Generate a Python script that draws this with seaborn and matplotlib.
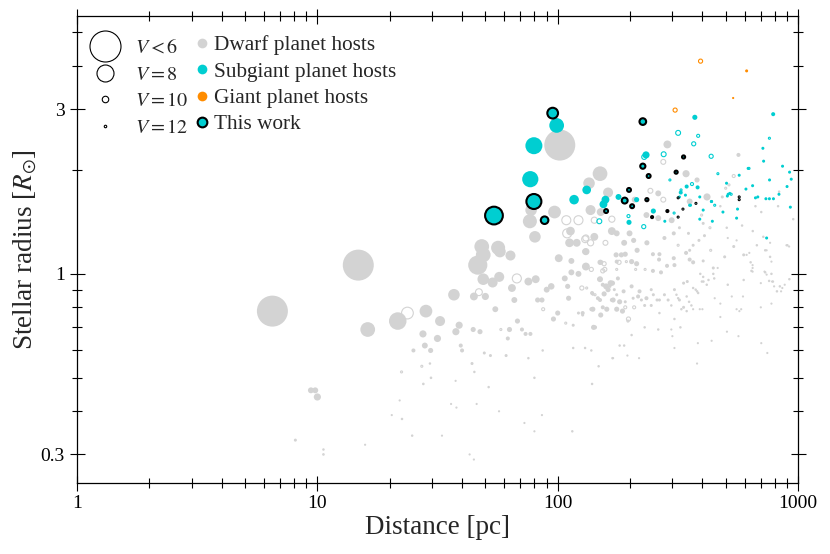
import numpy as np
import pandas as pd
import matplotlib
matplotlib.use("Agg")
import matplotlib.pyplot as plt
import seaborn as sns
from matplotlib.lines import Line2D
from matplotlib.ticker import FixedLocator, LogLocator, NullFormatter, FuncFormatter

# Dwarf planet hosts: distance [pc], radius [Rsun], V mag, open marker flag
dwarf_dist = [6.5, 14.8, 102, 16.2, 21.6, 23.7, 28.3, 32.4, 37.0, 38.9,
              37.7, 27.5, 31.6, 28.0, 29.6, 25.1, 44.5, 47.5, 55, 44.8,
              50, 47, 49, 53.6, 57.1, 46.5, 49, 57.5, 63.6, 67.6,
              64.5, 66, 75.5, 81, 82.5, 86, 90, 94, 101, 114,
              130, 131, 107, 114, 122, 110, 111, 100, 96, 87,
              126, 150, 148, 140, 154, 162, 168, 116, 108, 127,
              142, 122, 116, 148, 139, 115, 86.6, 75.5, 80, 86,
              80, 72.7, 57, 51.6, 49.5, 52.5, 61, 62, 63, 68,
              71, 73.5, 77, 58, 44, 45, 37.6, 36, 37.9, 46,
              43, 44.8, 33, 24.8, 22.5, 20.4, 22.0, 22.4, 27.2, 29.7,
              27.6, 29.4, 39.5, 40, 15.8, 8.1, 10.6, 10.6, 9.4, 9.8,
              10.0, 48.3, 56.5, 80.4, 76.6, 97, 108.6, 122, 109.5, 113,
              112, 120, 131, 137, 131, 138, 156, 157, 169, 156,
              147, 178, 176, 176, 184, 193, 203, 213, 189, 199,
              176, 168, 158, 137, 151, 207, 214, 77.5, 142, 130,
              175, 191, 151, 154, 180, 211, 231, 235, 249, 265,
              264, 249, 269, 285, 278, 304, 317, 304, 306, 354,
              366, 342, 354, 366, 387, 408, 433, 403, 444, 495,
              540, 594, 635, 640, 594, 674, 717, 730, 765, 730,
              775, 758, 786, 840, 817, 920, 903, 775, 700, 590,
              580, 570, 510, 475, 450, 400, 417, 398, 380, 366,
              346, 334, 306, 278, 288, 321, 334, 360, 259, 245,
              219, 216, 234, 203, 188, 181, 170, 166, 159, 150,
              160, 176, 186, 197, 191, 208, 141, 151, 140, 230,
              262, 324, 306, 390, 565, 437, 383, 300, 203, 189,
              181, 130, 138, 169, 218, 306, 506, 475, 850, 880,
              195, 380, 745, 286, 565, 150, 135, 162, 275, 243,
              342, 380, 418, 262, 275, 142, 168, 209, 234, 262,
              298, 354, 500, 516, 540, 484, 665, 703, 834, 826,
              955, 397, 475, 505, 585, 648, 321, 403, 430, 350,
              611, 627, 647, 647, 647, 725, 740, 780, 795, 700,
              895, 918, 555, 510, 463, 444, 448, 424, 404, 392,
              403, 375, 384, 344, 352, 312, 317, 327, 344, 297,
              265, 245, 250, 223, 230, 206, 191, 172, 176, 165,
              154, 150, 139, 132, 143, 127, 138, 143, 196, 265,
              297, 366, 530, 555, 703, 860, 740, 765, 775, 170]
dwarf_rad = [0.78, 1.06, 2.36, 0.69, 0.73, 0.77, 0.78, 0.73, 0.87, 0.71,
             0.68, 0.67, 0.65, 0.62, 0.60, 0.60, 0.69, 0.68, 0.79, 0.86,
             0.86, 0.885, 0.965, 0.944, 0.98, 1.06, 1.135, 1.16, 1.13, 0.97,
             0.91, 0.84, 0.95, 0.965, 0.84, 0.84, 0.90, 0.92, 1.11, 1.09,
             1.16, 1.05, 0.97, 1.01, 1.0, 0.92, 0.85, 0.77, 0.74, 0.79,
             0.91, 1.08, 0.965, 0.873, 0.80, 0.90, 0.84, 0.71, 0.72, 0.76,
             0.70, 0.77, 0.61, 0.54, 0.48, 0.35, 0.60, 0.57, 0.50, 0.39,
             0.35, 0.37, 0.40, 0.47, 0.59, 0.58, 0.58, 0.65, 0.69, 0.73,
             0.69, 0.67, 0.67, 0.69, 0.55, 0.52, 0.49, 0.42, 0.41, 0.42,
             0.30, 0.29, 0.34, 0.34, 0.38, 0.39, 0.43, 0.52, 0.54, 0.50,
             0.48, 0.55, 0.62, 0.60, 0.32, 0.33, 0.31, 0.30, 0.46, 0.46,
             0.44, 1.20, 1.19, 1.28, 1.42, 1.51, 1.43, 1.43, 1.31, 1.33,
             1.23, 1.23, 1.27, 1.23, 1.16, 1.03, 1.07, 1.03, 0.94, 0.875,
             0.85, 0.97, 1.085, 1.03, 1.135, 1.085, 1.085, 1.07, 1.23, 1.31,
             1.31, 1.33, 1.23, 1.53, 1.51, 1.25, 1.17, 1.53, 1.28, 1.26,
             1.135, 1.14, 1.08, 1.02, 1.08, 1.03, 1.03, 1.23, 1.14, 1.14,
             1.10, 1.02, 1.01, 1.055, 1.27, 1.31, 1.21, 1.11, 1.06, 1.10,
             1.08, 1.15, 1.17, 1.21, 1.25, 1.29, 1.17, 1.09, 1.04, 1.12,
             1.20, 1.135, 1.08, 1.02, 0.96, 1.21, 1.28, 1.17, 1.12, 1.01,
             1.0, 0.954, 0.95, 0.92, 0.89, 0.965, 1.21, 0.82, 0.80, 0.86,
             0.79, 0.78, 0.93, 0.82, 0.85, 0.79, 0.93, 0.95, 0.89, 0.91,
             0.95, 0.94, 0.90, 0.87, 0.84, 0.84, 0.80, 0.81, 0.84, 0.81,
             0.89, 0.86, 0.85, 0.92, 0.89, 0.83, 0.84, 0.94, 0.92, 0.965,
             0.79, 0.79, 0.78, 0.74, 0.80, 0.80, 0.70, 0.76, 0.79, 0.70,
             0.69, 0.70, 0.74, 0.79, 0.66, 0.64, 0.63, 0.66, 0.665, 0.62,
             0.62, 0.61, 0.60, 0.57, 0.57, 0.61, 0.68, 0.75, 0.89, 0.93,
             0.58, 0.55, 0.59, 2.37, 2.21, 1.95, 1.83, 1.72, 2.11, 1.74,
             1.95, 1.87, 1.67, 1.71, 1.64, 1.43, 1.44, 1.64, 1.48, 1.45,
             1.43, 1.62, 1.77, 1.81, 1.92, 1.67, 1.57, 1.51, 1.73, 1.57,
             1.44, 1.48, 1.57, 1.36, 1.38, 1.33, 1.36, 1.40, 1.36, 1.31,
             1.135, 1.15, 1.06, 1.04, 1.015, 1.015, 0.995, 0.95, 0.92, 0.94,
             1.21, 1.20, 1.25, 1.27, 1.04, 1.0, 0.97, 0.96, 0.95, 1.0,
             0.98, 0.90, 0.88, 0.86, 0.83, 0.87, 0.85, 0.79, 0.78, 0.81,
             0.84, 0.90, 0.87, 0.84, 0.81, 0.85, 0.83, 0.90, 0.87, 0.92,
             0.93, 0.84, 0.88, 0.91, 0.87, 0.77, 0.79, 0.70, 0.73, 0.77,
             0.69, 0.79, 0.86, 0.79, 0.63, 0.91, 1.17, 1.23, 1.085, 0.57]
dwarf_vmag = [5.5, 5.5, 5.5, 8.3, 7.9, 8.6, 8.6, 9.1, 8.8, 9.8,
              9.8, 9.8, 9.8, 10.2, 10.5, 11.0, 10.5, 10.5, 10.2, 9.6,
              9.8, 9.6, 8.8, 9.1, 9.1, 7.6, 8.3, 8.8, 9.1, 9.1,
              9.6, 10.2, 9.6, 9.6, 10.5, 10.5, 10.2, 10.0, 9.6, 10.2,
              10.2, 9.6, 10.2, 10.2, 10.2, 10.5, 10.5, 10.5, 10.5, 11.0,
              10.5, 10.5, 11.6, 11.6, 11.0, 10.5, 11.0, 11.6, 11.6, 11.6,
              11.6, 11.6, 12.0, 12.0, 12.0, 12.0, 12.0, 12.0, 12.0, 12.3,
              12.3, 12.3, 12.3, 12.0, 11.6, 11.6, 11.6, 11.0, 10.5, 10.5,
              11.0, 11.0, 11.0, 11.6, 11.6, 12.0, 12.3, 12.3, 12.3, 12.3,
              12.3, 12.3, 12.3, 12.0, 12.0, 12.3, 12.3, 11.6, 11.6, 12.0,
              12.0, 12.0, 11.0, 11.0, 12.3, 11.6, 12.0, 12.0, 10.2, 10.2,
              9.8, 8.3, 8.4, 8.8, 8.4, 8.6, 9.1, 9.1, 9.1, 9.4,
              9.4, 9.6, 9.8, 9.8, 9.8, 10.5, 10.5, 10.5, 10.5, 10.5,
              11.0, 11.0, 11.0, 11.6, 10.5, 11.6, 10.5, 10.5, 10.2, 10.2,
              10.2, 9.6, 10.2, 9.1, 9.6, 10.5, 10.5, 8.8, 9.6, 9.6,
              10.5, 10.5, 10.5, 10.5, 10.5, 11.6, 11.6, 10.5, 11.0, 11.0,
              11.0, 11.0, 11.0, 11.0, 11.0, 11.0, 11.6, 11.0, 11.0, 11.0,
              11.0, 11.0, 11.6, 11.6, 11.6, 11.6, 11.6, 11.6, 11.6, 11.6,
              11.6, 11.6, 12.0, 12.0, 12.0, 12.0, 12.0, 12.0, 12.0, 12.0,
              12.0, 12.0, 12.0, 12.0, 12.0, 12.0, 12.0, 12.3, 12.3, 12.3,
              12.3, 12.3, 12.0, 12.3, 12.3, 12.3, 12.0, 12.0, 12.0, 12.0,
              11.6, 11.6, 11.6, 11.6, 11.6, 11.6, 11.6, 12.0, 11.6, 11.6,
              11.0, 11.0, 11.0, 11.0, 11.0, 10.5, 10.5, 10.2, 10.2, 10.2,
              10.5, 10.5, 10.5, 10.5, 11.0, 11.0, 10.5, 10.5, 10.5, 12.0,
              12.0, 12.0, 12.0, 12.3, 12.3, 12.3, 12.3, 12.3, 12.0, 12.0,
              12.0, 12.0, 12.0, 12.0, 12.3, 12.3, 12.3, 12.3, 12.3, 12.3,
              12.3, 12.3, 12.3, 9.6, 11.0, 8.3, 8.8, 9.1, 10.2, 10.2,
              9.8, 10.5, 9.8, 10.2, 10.2, 9.8, 9.8, 10.2, 10.2, 10.2,
              10.2, 10.2, 11.6, 11.6, 11.0, 11.6, 12.0, 12.0, 12.0, 12.0,
              12.0, 11.6, 12.0, 12.0, 12.0, 12.0, 11.6, 11.6, 11.6, 11.6,
              12.3, 12.3, 12.3, 12.3, 12.3, 12.3, 12.3, 12.3, 12.3, 12.3,
              12.3, 12.3, 12.3, 12.3, 12.3, 12.0, 12.0, 12.0, 12.0, 12.0,
              12.0, 12.0, 12.0, 12.0, 12.0, 12.0, 12.0, 12.0, 12.0, 12.0,
              11.6, 11.6, 11.6, 11.6, 11.6, 11.6, 11.6, 11.6, 11.6, 11.6,
              11.0, 11.0, 11.0, 11.6, 11.6, 11.0, 11.0, 11.0, 11.6, 12.0,
              12.3, 12.3, 12.3, 12.3, 12.3, 12.3, 12.3, 12.3, 12.3, 12.3]
dwarf_open = [0, 0, 0, 0, 0, 1, 0, 0, 0, 0,
              0, 0, 0, 0, 0, 0, 0, 0, 0, 0,
              0, 1, 0, 0, 0, 0, 0, 0, 0, 1,
              0, 0, 0, 0, 0, 0, 0, 0, 0, 0,
              0, 0, 0, 0, 0, 0, 0, 0, 0, 1,
              1, 0, 0, 1, 0, 0, 0, 0, 1, 0,
              0, 0, 0, 0, 0, 0, 0, 0, 0, 0,
              0, 0, 0, 0, 0, 0, 0, 0, 0, 0,
              0, 0, 0, 1, 0, 0, 0, 0, 0, 0,
              0, 0, 0, 0, 0, 0, 0, 1, 1, 1,
              1, 0, 0, 0, 0, 0, 0, 1, 0, 0,
              0, 0, 0, 0, 0, 0, 1, 1, 1, 0,
              0, 0, 1, 1, 0, 1, 1, 1, 0, 0,
              0, 0, 0, 1, 0, 1, 0, 0, 0, 0,
              0, 0, 1, 0, 0, 0, 0, 0, 0, 1,
              0, 0, 0, 1, 1, 1, 1, 0, 0, 0,
              0, 0, 0, 0, 0, 0, 1, 0, 0, 0,
              0, 0, 0, 0, 0, 0, 1, 0, 0, 0,
              0, 0, 0, 0, 0, 0, 0, 0, 0, 0,
              0, 0, 0, 0, 0, 0, 0, 0, 0, 0,
              0, 0, 0, 0, 0, 0, 0, 0, 0, 0,
              0, 0, 0, 0, 0, 0, 0, 0, 0, 0,
              0, 0, 0, 0, 0, 0, 0, 0, 0, 0,
              0, 0, 0, 1, 1, 1, 0, 0, 0, 0,
              0, 0, 0, 0, 0, 0, 0, 0, 0, 0,
              0, 0, 0, 0, 0, 0, 0, 0, 0, 0,
              0, 0, 0, 0, 0, 0, 0, 0, 1, 1,
              0, 0, 0, 0, 1, 1, 1, 0, 0, 0,
              0, 0, 1, 1, 1, 0, 0, 0, 0, 0,
              0, 1, 0, 0, 0, 0, 0, 0, 1, 0,
              0, 0, 0, 0, 0, 0, 0, 0, 0, 0,
              0, 0, 0, 0, 0, 0, 0, 0, 0, 0,
              0, 0, 0, 0, 0, 0, 0, 0, 0, 0,
              0, 0, 0, 0, 0, 0, 0, 0, 0, 0,
              0, 0, 0, 1, 1, 0, 0, 0, 1, 0,
              0, 0, 0, 0, 0, 0, 0, 0, 0, 0]

# Subgiant planet hosts (filled)
sub_dist = [99, 79.6, 76.9, 117, 132, 158, 155, 179, 233, 372,
            788, 213, 198, 250, 279, 344, 382, 325, 321, 504,
            512, 569, 607, 647, 714, 719, 862, 922, 937, 735,
            760, 790, 900, 833, 929, 740, 761, 665, 680, 560,
            555, 487, 508, 520, 437, 390, 403, 390, 440, 340,
            357, 620]
sub_rad = [2.69, 2.35, 1.88, 1.64, 1.75, 1.64, 1.59, 1.67, 2.21, 2.84,
           2.90, 1.64, 1.41, 1.52, 1.42, 1.79, 1.78, 1.72, 1.67, 1.83,
           1.70, 1.93, 1.76, 1.80, 2.31, 2.12, 2.05, 1.97, 1.88, 1.65,
           1.65, 1.65, 1.79, 1.70, 1.56, 1.27, 1.87, 1.66, 1.67, 1.54,
           1.45, 1.51, 1.68, 1.71, 1.62, 1.67, 1.53, 1.44, 1.42, 1.69,
           1.58, 2.02]
sub_vmag = [8.3, 8.0, 8.1, 9.2, 9.4, 9.6, 9.6, 10.2, 9.8, 10.5,
            11.0, 10.5, 10.5, 10.5, 11.6, 11.0, 11.0, 11.0, 11.6, 11.6,
            11.6, 11.6, 11.6, 11.6, 11.6, 11.6, 11.6, 11.6, 11.6, 11.6,
            11.6, 11.6, 11.6, 11.6, 11.6, 11.6, 11.6, 11.6, 11.6, 11.6,
            11.6, 11.6, 11.6, 11.6, 11.6, 11.6, 11.6, 11.6, 11.6, 11.6,
            11.6, 11.6]
# Subgiant planet hosts (open)
sub_open_dist = [317, 384, 368, 276, 229, 435, 464, 293, 362, 760,
                 149, 197, 228, 305, 326, 354, 436, 450, 625, 527]
sub_open_rad = [2.56, 2.51, 2.38, 2.22, 2.18, 2.19, 1.95, 1.87, 1.82, 2.47,
                1.42, 1.47, 1.37, 1.50, 1.75, 1.58, 1.62, 1.58, 2.02, 1.70]
sub_open_vmag = [10.2, 11.0, 10.5, 10.2, 10.2, 10.5, 11.6, 11.6, 11.0, 11.6,
                 10.2, 11.0, 10.5, 11.6, 11.6, 11.6, 11.6, 11.6, 11.6, 11.6]

# Giant planet hosts
giant_dist = [393, 611, 537, 308]
giant_rad = [4.13, 3.87, 3.23, 2.98]
giant_vmag = [10.5, 11.6, 12.3, 10.5]
giant_open = [1, 0, 0, 1]

# This work
work_dist = [95.3, 54.3, 79.6, 88.2, 226, 226, 239, 334, 311, 198,
             190, 204, 159, 235, 247, 286, 317, 317, 332, 376, 569, 569]
work_rad = [2.92, 1.475, 1.62, 1.43, 2.76, 2.05, 1.92, 2.18, 1.97, 1.75,
            1.63, 1.57, 1.52, 1.64, 1.46, 1.52, 1.66, 1.46, 1.54, 1.60, 1.64, 1.67]
work_vmag = [8.6, 7.5, 8.0, 9.2, 9.4, 9.8, 10.2, 10.5, 10.5, 10.2,
             9.6, 10.2, 10.2, 10.5, 11.0, 11.0, 11.6, 11.6, 11.6, 11.6, 11.6, 11.6]

legend_vmag = [5.5, 8, 10, 12]
legend_vlabels = ["$V < 6$", "$V = 8$", "$V = 10$", "$V = 12$"]
group_labels = ["Dwarf planet hosts", "Subgiant planet hosts", "Giant planet hosts", "This work"]

GRAY = "#d3d3d3"
CYAN = "#00ced1"
ORANGE = "#ff8c00"


def vmag_to_area(v, edge_px=0.0):
    # marker diameter (pixels) as a function of V magnitude
    diam = np.exp(np.interp(v, [6, 8, 10, 12, 13], np.log([31, 17, 6.5, 2.5, 1.6])))
    diam = np.maximum(diam - edge_px, 1.0)
    return (diam * 0.72) ** 2


def make_df(dist, rad, vmag, opn=None):
    df = pd.DataFrame({"dist": dist, "rad": rad, "vmag": vmag})
    df["open"] = 0 if opn is None else opn
    return df


sns.set_theme(style="ticks", rc={"axes.edgecolor": "black", "xtick.color": "black",
                                 "ytick.color": "black", "axes.linewidth": 0.9})
plt.rcParams["font.family"] = ["Liberation Serif", "DejaVu Serif"]
plt.rcParams["mathtext.fontset"] = "stix"

fig = plt.figure(figsize=(8.3, 5.54), dpi=100)
ax = fig.add_axes([0.0928, 0.1282, 0.8687, 0.8429])

dwarf = make_df(dwarf_dist, dwarf_rad, dwarf_vmag, dwarf_open)
sub = make_df(sub_dist, sub_rad, sub_vmag)
sub_open = make_df(sub_open_dist, sub_open_rad, sub_open_vmag, 1)
giant = make_df(giant_dist, giant_rad, giant_vmag, giant_open)
work = make_df(work_dist, work_rad, work_vmag)


def draw(df, color, z):
    filled = df[df["open"] == 0].sort_values("vmag")
    hollow = df[df["open"] == 1].sort_values("vmag")
    if len(filled):
        sns.scatterplot(data=filled, x="dist", y="rad", s=vmag_to_area(filled["vmag"].to_numpy()),
                        color=color, edgecolor="none", linewidth=0, zorder=z, ax=ax, legend=False)
    if len(hollow):
        sns.scatterplot(data=hollow, x="dist", y="rad", s=vmag_to_area(hollow["vmag"].to_numpy(), 1.0),
                        facecolor="none", edgecolor=color, linewidth=0.8, zorder=z, ax=ax, legend=False)


draw(dwarf, GRAY, 1)
draw(sub, CYAN, 2)
draw(sub_open, CYAN, 2)
draw(giant, ORANGE, 2)
work_sorted = work.sort_values("vmag")
sns.scatterplot(data=work_sorted, x="dist", y="rad",
                s=vmag_to_area(work_sorted["vmag"].to_numpy(), 2.0),
                color=CYAN, edgecolor="black", linewidth=1.5, zorder=3, ax=ax, legend=False)

ax.set_xscale("log")
ax.set_yscale("log")
ax.set_xlim(1, 1000)
ax.set_ylim(0.248, 5.58)

fmt = FuncFormatter(lambda v, p: f"{v:g}")
ax.xaxis.set_major_locator(FixedLocator([1, 10, 100, 1000]))
ax.xaxis.set_major_formatter(fmt)
ax.xaxis.set_minor_locator(LogLocator(base=10, subs=np.arange(2, 10)))
ax.xaxis.set_minor_formatter(NullFormatter())
ax.yaxis.set_major_locator(FixedLocator([0.3, 1, 3]))
ax.yaxis.set_major_formatter(fmt)
ax.yaxis.set_minor_locator(FixedLocator([0.4, 0.5, 0.6, 0.7, 0.8, 0.9, 2, 4, 5]))
ax.yaxis.set_minor_formatter(NullFormatter())

ax.tick_params(which="both", direction="inout", top=True, right=True, width=0.8, labelsize=14)
ax.tick_params(which="major", length=10.8, pad=3.5)
ax.tick_params(which="minor", length=7.2)
for sp in ax.spines.values():
    sp.set_visible(True)
    sp.set_linewidth(0.9)

ax.set_xlabel("Distance [pc]", fontsize=19.5, labelpad=2)
ax.set_ylabel(r"Stellar radius [$R_{\odot}$]", fontsize=19.5, labelpad=1)

size_handles = [Line2D([], [], ls="none", marker="o", markersize=np.sqrt(vmag_to_area(v)),
                       mfc="none", mec="black", mew=0.8) for v in legend_vmag]
leg1 = ax.legend(size_handles, legend_vlabels, loc="upper left", bbox_to_anchor=(0.008, 0.951),
                 frameon=False, fontsize=14.5, handlelength=2.2, handletextpad=0.4,
                 labelspacing=0.38, borderpad=0, borderaxespad=0)
ax.add_artist(leg1)

group_handles = [
    Line2D([], [], ls="none", marker="o", markersize=7, mfc=GRAY, mec="none"),
    Line2D([], [], ls="none", marker="o", markersize=7, mfc=CYAN, mec="none"),
    Line2D([], [], ls="none", marker="o", markersize=7, mfc=ORANGE, mec="none"),
    Line2D([], [], ls="none", marker="o", markersize=7, mfc=CYAN, mec="black", mew=1.5),
]
ax.legend(group_handles, group_labels, loc="upper left", bbox_to_anchor=(0.16, 0.959),
          frameon=False, fontsize=15.3, handlelength=0.95, handletextpad=0.05,
          labelspacing=0.31, borderpad=0, borderaxespad=0)

fig.savefig("out.png", dpi=100)
